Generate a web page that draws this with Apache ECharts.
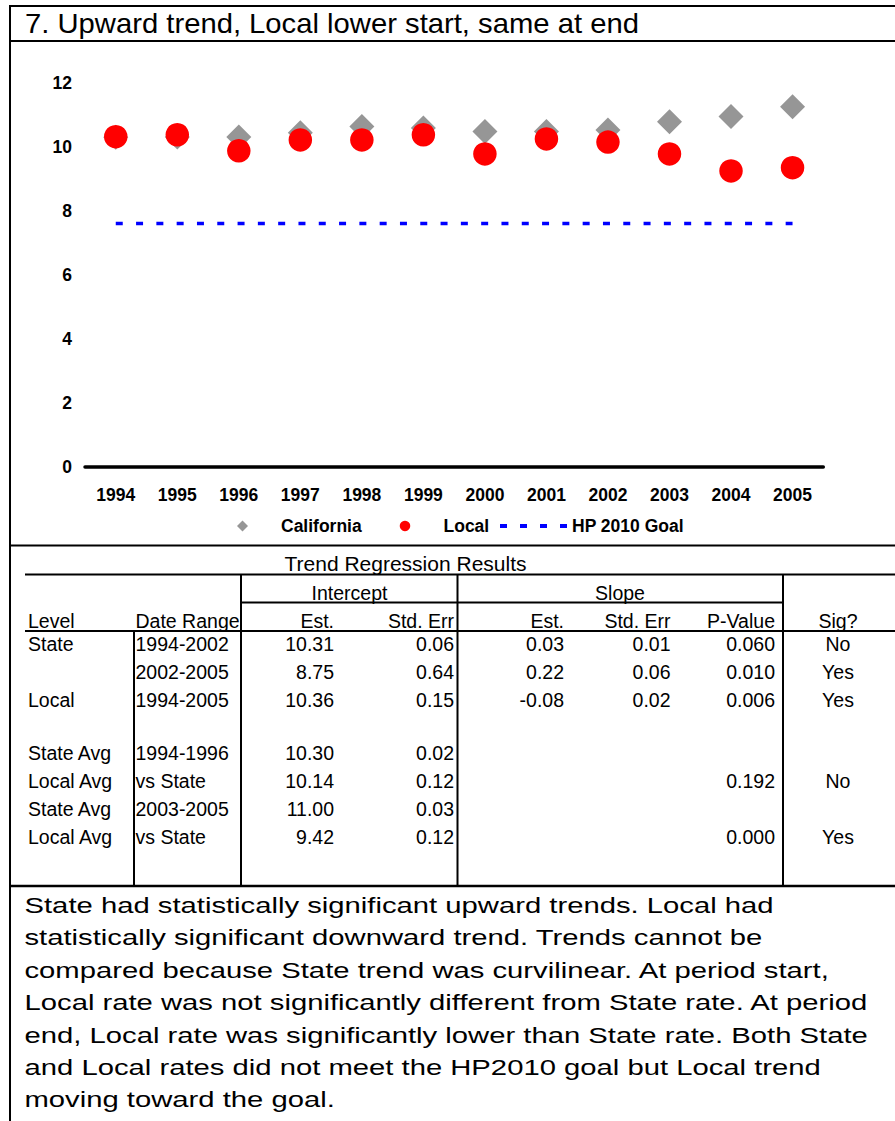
<!DOCTYPE html>
<html>
<head>
<meta charset="utf-8">
<script src="https://cdn.jsdelivr.net/npm/echarts@6/dist/echarts.min.js"></script>
<style>
  html, body { margin: 0; padding: 0; background: #ffffff; }
  #chart { width: 895px; height: 1121px; }
</style>
</head>
<body>
<div id="chart"></div>
<script>
// ---------------- data ----------------
const titleText = '7. Upward trend, Local lower start, same at end';
const years = ['1994', '1995', '1996', '1997', '1998', '1999', '2000', '2001', '2002', '2003', '2004', '2005'];
const californiaValues = [10.30, 10.31, 10.31, 10.44, 10.64, 10.59, 10.48, 10.48, 10.53, 10.79, 10.95, 11.26];
const localValues = [10.32, 10.38, 9.88, 10.22, 10.22, 10.38, 9.78, 10.25, 10.15, 9.78, 9.25, 9.35];
const hpGoalValues = [7.6, 7.6, 7.6, 7.6, 7.6, 7.6, 7.6, 7.6, 7.6, 7.6, 7.6, 7.6];
const seriesNames = ['California', 'Local', 'HP 2010 Goal'];
const yMin = 0, yMax = 12, yInterval = 2;

const tableTitle = 'Trend Regression Results';
const tableGroupHeaders = ['Intercept', 'Slope'];
const tableColumnHeaders = ['Level', 'Date Range', 'Est.', 'Std. Err', 'Est.', 'Std. Err', 'P-Value', 'Sig?'];
const tableRows = [
  ['State', '1994-2002', '10.31', '0.06', '0.03', '0.01', '0.060', 'No'],
  ['', '2002-2005', '8.75', '0.64', '0.22', '0.06', '0.010', 'Yes'],
  ['Local', '1994-2005', '10.36', '0.15', '-0.08', '0.02', '0.006', 'Yes'],
  ['State Avg', '1994-1996', '10.30', '0.02', '', '', '', ''],
  ['Local Avg', 'vs State', '10.14', '0.12', '', '', '0.192', 'No'],
  ['State Avg', '2003-2005', '11.00', '0.03', '', '', '', ''],
  ['Local Avg', 'vs State', '9.42', '0.12', '', '', '0.000', 'Yes']
];
const summaryLines = [
  'State had statistically significant upward trends. Local had',
  'statistically significant downward trend. Trends cannot be',
  'compared because State trend was curvilinear. At period start,',
  'Local rate was not significantly different from State rate. At period',
  'end, Local rate was significantly lower than State rate. Both State',
  'and Local rates did not meet the HP2010 goal but Local trend',
  'moving toward the goal.'
];

// ---------------- layout / style ----------------
const FONT = 'Liberation Sans, Arial, Helvetica, sans-serif';
const els = [];

function hline(x1, x2, y, w) {
  els.push({ type: 'line', silent: true, shape: { x1: x1, y1: y, x2: x2, y2: y }, style: { stroke: '#000', lineWidth: w || 2 } });
}
function vline(x, y1, y2, w) {
  els.push({ type: 'line', silent: true, shape: { x1: x, y1: y1, x2: x, y2: y2 }, style: { stroke: '#000', lineWidth: w || 2 } });
}
function txt(text, x, y, size, align, sx, weight) {
  els.push({
    type: 'text', silent: true, x: x, y: y, scaleX: sx || 1, scaleY: 1,
    style: {
      text: text, fill: '#000', fontSize: size, fontFamily: FONT, fontWeight: weight || 'normal',
      align: align || 'left', verticalAlign: 'middle',
      textAlign: align || 'left', textVerticalAlign: 'middle'
    }
  });
}

// frame lines
hline(9, 895, 6, 2);
vline(10, 5, 1121, 2);
hline(9, 895, 41, 2);
hline(9, 895, 545.5, 2);
// title
txt(titleText, 25, 23.7, 28, 'left', 1.044);

// table lines
hline(25, 895, 574.5, 2);
hline(241, 783, 602.5, 2);
hline(25, 895, 631, 2);
hline(9, 895, 886, 2.5);
vline(134, 631, 885, 2);
vline(241, 574, 885, 2);
vline(457.5, 574, 885, 2);
vline(783, 574, 885, 2);

// table texts
txt(tableTitle, 405.5, 563.3, 21, 'center');
txt(tableGroupHeaders[0], 349.5, 592.5, 19.5, 'center');
txt(tableGroupHeaders[1], 620, 592.5, 19.5, 'center');
const colX = [28, 135.5, 334, 454, 564, 670.5, 775, 838];
const colAlign = ['left', 'left', 'right', 'right', 'right', 'right', 'right', 'center'];
tableColumnHeaders.forEach(function (h, i) { txt(h, colX[i], 621, 19.5, colAlign[i]); });
const rowY = [644, 672, 700, 753, 781, 809, 837];
tableRows.forEach(function (row, r) {
  row.forEach(function (cell, c) { if (cell) txt(cell, colX[c], rowY[r], 19.5, colAlign[c]); });
});

// summary paragraph
summaryLines.forEach(function (line, i) { txt(line, 24.5, 905.3 + i * 32.4, 22.5, 'left', 1.3); });

const chart = echarts.init(document.getElementById('chart'), null, { renderer: 'svg', width: 895, height: 1121 });
const axisFont = { color: '#000', fontSize: 17.5, fontWeight: 'bold', fontFamily: FONT };
const legendText = { color: '#000', fontSize: 17.5, fontWeight: 'bold', fontFamily: FONT };
const legendIcons = [
  'path://M5,0L10,5L5,10L0,5Z',
  'circle',
  'path://M0,0H7V4H0Z M20,0H27V4H20Z M40,0H47V4H40Z M60,0H67V4H60Z'
];
const legendColors = ['#969696', '#ff0000', '#0000ff'];
// left edge of each legend item's visible icon
const legendLeft = [237, 399.75, 500];

chart.setOption({
  backgroundColor: '#ffffff',
  animation: false,
  grid: { left: 85, right: 71.7, top: 83, bottom: 654.5, containLabel: false, outerBoundsMode: 'none' },
  legend: seriesNames.map(function (name, i) {
    return {
      left: legendLeft[i], top: 517, padding: 0, orient: 'horizontal',
      itemWidth: 67, itemHeight: i === 1 ? 10.5 : 11, itemGap: 10, selectedMode: false,
      symbolKeepAspect: true,
      textStyle: legendText,
      data: [{ name: name, icon: legendIcons[i], itemStyle: { color: legendColors[i], borderWidth: 0, opacity: 1 } }]
    };
  }),
  xAxis: {
    type: 'category', data: years, boundaryGap: true,
    axisLine: { show: true, lineStyle: { color: '#000', width: 3.5 } },
    axisTick: { show: false },
    splitLine: { show: false },
    axisLabel: Object.assign({ margin: 19, interval: 0 }, axisFont)
  },
  yAxis: {
    type: 'value', min: yMin, max: yMax, interval: yInterval,
    axisLine: { show: false }, axisTick: { show: false }, splitLine: { show: false },
    axisLabel: Object.assign({ margin: 13 }, axisFont)
  },
  graphic: { elements: els },
  series: [
    {
      name: seriesNames[0], type: 'scatter', data: californiaValues, z: 2,
      symbol: 'diamond', symbolSize: [25, 25],
      itemStyle: { color: '#969696', opacity: 1 }, emphasis: { disabled: true }
    },
    {
      name: seriesNames[1], type: 'scatter', data: localValues, z: 3,
      symbol: 'circle', symbolSize: 23.5,
      itemStyle: { color: '#ff0000', opacity: 1 }, emphasis: { disabled: true }
    },
    {
      name: seriesNames[2], type: 'line', data: hpGoalValues, z: 2,
      symbol: 'none', showSymbol: false, color: '#0000ff',
      itemStyle: { color: '#0000ff' },
      lineStyle: { color: '#0000ff', width: 3.5, type: [7, 13.3], cap: 'butt' },
      emphasis: { disabled: true }
    }
  ]
});
</script>
</body>
</html>
